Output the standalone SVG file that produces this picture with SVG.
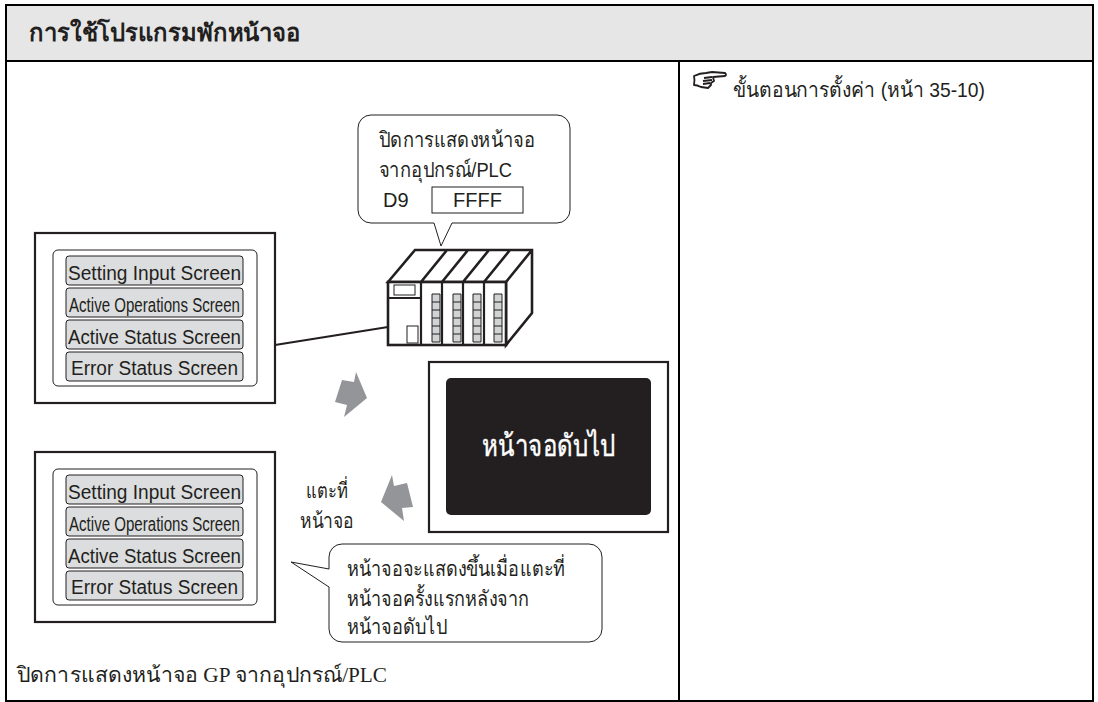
<svg xmlns="http://www.w3.org/2000/svg" width="1098" height="702" viewBox="0 0 1098 702">
<style>
text{font-family:"Liberation Sans","Noto Sans","DejaVu Sans",sans-serif;fill:#231f20}
.t{font-size:21px;font-weight:300}
.fr{fill:#fff;stroke:#231f20;stroke-width:2.2}
.in{fill:#fff;stroke:#231f20;stroke-width:1}
.b{fill:#dcddde;stroke:#231f20;stroke-width:1}
.bt{font-size:20px;text-anchor:middle}
.bub{fill:#fff;stroke:#231f20;stroke-width:1}
.arrow{fill:#939598}
.p{fill:#fff;stroke:#231f20;stroke-width:2.6;stroke-linejoin:miter}
.led{fill:#d1d3d4;stroke:#231f20;stroke-width:1}
</style>
<g id="table">
<rect x="6" y="5" width="1087" height="56" fill="#e6e6e6"/>
<g fill="none" stroke="#000" stroke-width="2">
<rect x="6" y="5" width="1087" height="696"/>
<path d="M6 61H1093M679 61V701"/>
</g>
<text x="29" y="41" font-size="24" font-weight="bold" textLength="271" lengthAdjust="spacingAndGlyphs">การใช้โปรแกรมพักหน้าจอ</text>
<path id="hand" fill="#fff" stroke="#231f20" stroke-width="1.8" stroke-linejoin="round" d="M694 76Q700 73 706 73L712 72L725 73Q727 75 725 76L713 77L714 81L711 83L711 85L708 88L701 87Q697 85 694 85Q695 80 694 76ZM704 78L712 77M703 81L712 80M703 84L710 83"/>
<text x="733" y="97" class="t" font-size="20" textLength="252" lengthAdjust="spacingAndGlyphs">ขั้นตอนการตั้งค่า (หน้า 35-10)</text>
<text x="17" y="682" style="font-family:'Liberation Serif','Noto Serif',serif;font-size:21px" textLength="370" lengthAdjust="spacingAndGlyphs">ปิดการแสดงหน้าจอ GP จากอุปกรณ์/PLC</text>
</g>
<g id="connectors">
<line x1="275" y1="345" x2="388" y2="327" stroke="#231f20" stroke-width="2"/>
<polygon class="arrow" points="356,372 367,398 344,417 347,405 335,402 342,380 354,382"/>
<polygon class="arrow" points="392,475 381,502 404,521 402,508 413,507 407,483 394,486"/>
</g>
<g id="screen1">
<rect class="fr" x="35" y="233" width="240" height="170"/>
<rect class="in" x="53" y="250" width="204" height="136" rx="5"/>
<rect class="b" x="66" y="256" width="177" height="29" rx="3"/><text class="bt" x="154.500" y="279.500" textLength="173" lengthAdjust="spacingAndGlyphs">Setting Input Screen</text>
<rect class="b" x="66" y="288" width="177" height="29" rx="3"/><text class="bt" x="154.500" y="311.500" textLength="171" lengthAdjust="spacingAndGlyphs">Active Operations Screen</text>
<rect class="b" x="66" y="320" width="177" height="29" rx="3"/><text class="bt" x="154.500" y="343.500" textLength="173" lengthAdjust="spacingAndGlyphs">Active Status Screen</text>
<rect class="b" x="66" y="352" width="177" height="29" rx="3"/><text class="bt" x="154.500" y="375" textLength="167" lengthAdjust="spacingAndGlyphs">Error Status Screen</text>
</g>
<g id="screen2">
<rect class="fr" x="35" y="452" width="240" height="170"/>
<rect class="in" x="53" y="469" width="204" height="136" rx="5"/>
<rect class="b" x="66" y="475" width="177" height="29" rx="3"/><text class="bt" x="154.500" y="498.500" textLength="173" lengthAdjust="spacingAndGlyphs">Setting Input Screen</text>
<rect class="b" x="66" y="507" width="177" height="29" rx="3"/><text class="bt" x="154.500" y="530.500" textLength="171" lengthAdjust="spacingAndGlyphs">Active Operations Screen</text>
<rect class="b" x="66" y="539" width="177" height="29" rx="3"/><text class="bt" x="154.500" y="562.500" textLength="173" lengthAdjust="spacingAndGlyphs">Active Status Screen</text>
<rect class="b" x="66" y="571" width="177" height="29" rx="3"/><text class="bt" x="154.500" y="594" textLength="167" lengthAdjust="spacingAndGlyphs">Error Status Screen</text>
</g>
<g id="screen-off">
<rect class="fr" x="429" y="362" width="239" height="170"/>
<rect x="446" y="378" width="205" height="137" rx="5" fill="#231f20"/>
<text x="548.500" y="456" font-size="30" text-anchor="middle" textLength="133" lengthAdjust="spacingAndGlyphs" style="fill:#fff;stroke:#fff;stroke-width:.4">หน้าจอดับไป</text>
</g>
<g id="plc">
<path class="p" d="M388 282L415 250H532V313L506 345V282H388ZM506 282L532 250M421 282L447 250M442 282L468 250M463 282L489 250M484 282L510 250"/>
<rect class="p" x="388" y="282" width="118" height="63"/>
<path fill="none" stroke="#231f20" stroke-width="2.2" d="M421 282V345M442 282V345M463 282V345M484 282V345M388 298H421"/>
<rect x="394" y="285" width="21" height="10" fill="#fff" stroke="#231f20"/>
<rect x="407" y="326" width="11" height="17" fill="#fff" stroke="#231f20"/>
<g id="leds" class="led">
<path d="M432 294h8v48h-8zM432 302h8M432 310h8M432 318h8M432 326h8M432 334h8"/>
<path d="M453 294h8v48h-8zM453 302h8M453 310h8M453 318h8M453 326h8M453 334h8"/>
<path d="M473 294h8v48h-8zM473 302h8M473 310h8M473 318h8M473 326h8M473 334h8"/>
<path d="M494 294h8v48h-8zM494 302h8M494 310h8M494 318h8M494 326h8M494 334h8"/>
</g>
</g>
<g id="callout-plc">
<path class="bub" d="M371 115H557A13 13 0 0 1 570 128V210A13 13 0 0 1 557 223H452L441 246L434 223H371A13 13 0 0 1 358 210V128A13 13 0 0 1 371 115Z"/>
<text x="379" y="147" class="t" textLength="156" lengthAdjust="spacingAndGlyphs">ปิดการแสดงหน้าจอ</text>
<text x="379" y="177" class="t" textLength="133" lengthAdjust="spacingAndGlyphs">จากอุปกรณ์/PLC</text>
<text x="383" y="207" font-size="20">D9</text>
<rect x="432" y="187" width="91" height="26" fill="#fff" stroke="#231f20"/>
<text x="477.500" y="207" font-size="20" text-anchor="middle">FFFF</text>
</g>
<g id="callout-touch">
<path class="bub" d="M342 544H589A13 13 0 0 1 602 557V629A13 13 0 0 1 589 642H342A13 13 0 0 1 329 629V587L291 562L329 569V557A13 13 0 0 1 342 544Z"/>
<text x="347" y="576" class="t" textLength="218" lengthAdjust="spacingAndGlyphs">หน้าจอจะแสดงขึ้นเมื่อแตะที่</text>
<text x="347" y="606" class="t" textLength="182" lengthAdjust="spacingAndGlyphs">หน้าจอครั้งแรกหลังจาก</text>
<text x="347" y="634" class="t" textLength="100" lengthAdjust="spacingAndGlyphs">หน้าจอดับไป</text>
</g>
<g id="label-touch">
<text x="327" y="498" class="t" text-anchor="middle" textLength="42" lengthAdjust="spacingAndGlyphs">แตะที่</text>
<text x="327" y="528" class="t" text-anchor="middle" textLength="54" lengthAdjust="spacingAndGlyphs">หน้าจอ</text>
</g>
</svg>
